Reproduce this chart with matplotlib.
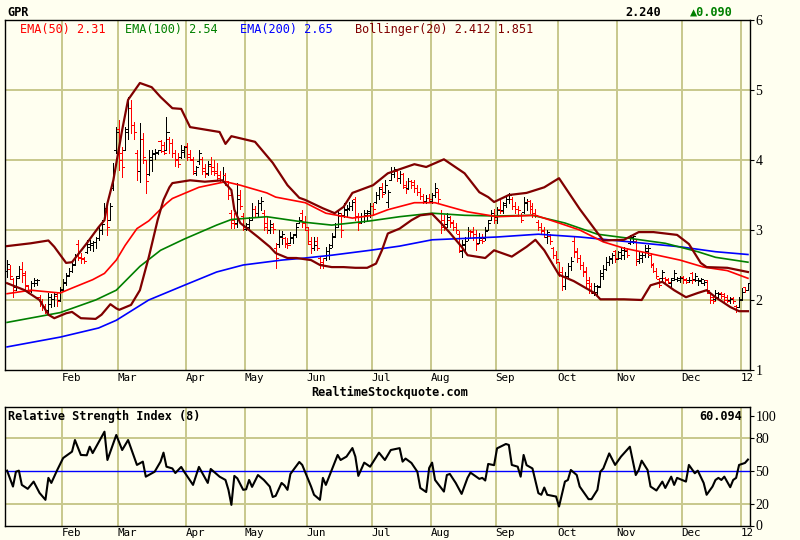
import matplotlib
matplotlib.use("Agg")
import matplotlib.pyplot as plt
from matplotlib.collections import LineCollection
import numpy as np

# daily bars, one per trading day
opens = [
    2.42, 2.45, 2.30, 2.18, 2.34, 2.45, 2.36, 2.20, 2.15, 2.25,
    2.24, 2.05, 1.98, 1.92, 1.86, 1.95, 2.02, 2.06, 2.00, 2.16,
    2.26, 2.36, 2.42, 2.52, 2.80, 2.62, 2.60, 2.68, 2.76, 2.78,
    2.83, 2.88, 3.00, 3.15, 3.30, 3.15, 3.60, 4.15, 4.45, 4.10,
    4.15, 4.45, 4.75, 4.50, 4.10, 3.85, 4.30, 4.00, 3.80, 4.00,
    4.08, 4.10, 4.27, 4.22, 4.15, 4.30, 4.25, 4.10, 4.02, 4.05,
    4.12, 4.20, 4.08, 4.00, 3.82, 3.98, 4.02, 3.88, 3.82, 3.92,
    3.90, 3.85, 3.78, 3.72, 3.78, 3.65, 3.25, 3.15, 3.10, 3.50,
    3.20, 3.02, 3.05, 3.15, 3.30, 3.25, 3.38, 3.25, 3.10, 3.00,
    3.05, 2.75, 2.80, 2.90, 2.88, 2.82, 2.82, 2.88, 2.95, 3.10,
    3.25, 3.12, 3.00, 2.80, 2.74, 2.85, 2.60, 2.55, 2.60, 2.65,
    2.78, 2.92, 3.08, 3.20, 3.22, 3.28, 3.30, 3.35, 3.45, 3.20,
    3.12, 3.20, 3.22, 3.25, 3.35, 3.40, 3.50, 3.62, 3.55, 3.40,
    3.72, 3.80, 3.85, 3.75, 3.80, 3.62, 3.60, 3.70, 3.68, 3.60,
    3.55, 3.48, 3.42, 3.46, 3.42, 3.50, 3.55, 3.25, 3.15, 3.08,
    3.15, 3.12, 3.05, 2.95, 2.70, 2.78, 2.88, 2.99, 2.98, 2.95,
    2.82, 2.86, 2.88, 3.00, 3.15, 3.22, 3.18, 3.30, 3.28, 3.38,
    3.45, 3.45, 3.35, 3.30, 3.22, 3.26, 3.38, 3.42, 3.35, 3.25,
    3.12, 3.05, 2.98, 2.90, 2.92, 2.75, 2.65, 2.55, 2.40, 2.20,
    2.35, 2.48, 2.85, 2.70, 2.60, 2.50, 2.42, 2.28, 2.20, 2.10,
    2.12, 2.20, 2.35, 2.45, 2.55, 2.58, 2.70, 2.58, 2.60, 2.65,
    2.72, 2.82, 2.84, 2.85, 2.56, 2.60, 2.64, 2.70, 2.65, 2.50,
    2.42, 2.30, 2.31, 2.32, 2.30, 2.25, 2.32, 2.30, 2.28, 2.33,
    2.30, 2.28, 2.38, 2.30, 2.28, 2.27, 2.24, 2.28, 2.10, 2.05,
    2.02, 2.05, 2.10, 2.08, 2.05, 2.00, 2.03, 1.92, 1.90, 2.02,
    2.19, 2.15]
highs = [
    2.57, 2.50, 2.31, 2.35, 2.48, 2.55, 2.42, 2.22, 2.27, 2.31,
    2.30, 2.07, 2.02, 1.95, 2.10, 2.08, 2.10, 2.10, 2.19, 2.30,
    2.39, 2.46, 2.54, 2.66, 2.86, 2.67, 2.62, 2.86, 2.86, 2.85,
    2.90, 3.04, 3.10, 3.39, 3.33, 3.39, 3.96, 4.47, 4.57, 4.19,
    4.47, 4.90, 4.86, 4.55, 4.14, 4.53, 4.39, 4.00, 4.14, 4.14,
    4.16, 4.15, 4.29, 4.26, 4.61, 4.33, 4.30, 4.14, 4.10, 4.21,
    4.20, 4.24, 4.15, 4.04, 3.92, 4.14, 4.04, 3.95, 3.98, 4.04,
    4.00, 3.96, 3.85, 3.90, 3.82, 3.70, 3.29, 3.25, 3.67, 3.57,
    3.24, 3.10, 3.19, 3.39, 3.35, 3.43, 3.47, 3.29, 3.19, 3.15,
    3.10, 2.81, 3.00, 2.98, 2.90, 2.88, 2.97, 2.95, 3.10, 3.19,
    3.29, 3.20, 3.04, 2.90, 2.90, 2.90, 2.61, 2.60, 2.76, 2.80,
    2.96, 3.10, 3.29, 3.24, 3.39, 3.36, 3.40, 3.43, 3.47, 3.24,
    3.25, 3.29, 3.28, 3.39, 3.39, 3.55, 3.61, 3.67, 3.71, 3.57,
    3.90, 3.90, 3.86, 3.84, 3.81, 3.70, 3.74, 3.72, 3.72, 3.65,
    3.60, 3.52, 3.50, 3.52, 3.53, 3.67, 3.58, 3.29, 3.22, 3.24,
    3.20, 3.14, 3.10, 2.98, 2.86, 2.90, 3.04, 3.00, 3.04, 3.00,
    2.96, 2.94, 3.04, 3.14, 3.29, 3.30, 3.33, 3.43, 3.40, 3.50,
    3.53, 3.47, 3.40, 3.35, 3.24, 3.47, 3.45, 3.43, 3.39, 3.30,
    3.14, 3.10, 3.05, 3.00, 2.95, 2.76, 2.70, 2.55, 2.47, 2.40,
    2.53, 2.61, 2.90, 2.75, 2.65, 2.55, 2.47, 2.33, 2.25, 2.24,
    2.22, 2.43, 2.50, 2.61, 2.63, 2.67, 2.72, 2.70, 2.76, 2.76,
    2.74, 2.93, 2.92, 2.86, 2.69, 2.68, 2.79, 2.78, 2.67, 2.53,
    2.46, 2.31, 2.43, 2.33, 2.31, 2.31, 2.43, 2.33, 2.34, 2.34,
    2.32, 2.33, 2.40, 2.38, 2.31, 2.31, 2.28, 2.29, 2.10, 2.06,
    2.14, 2.12, 2.12, 2.10, 2.07, 2.04, 2.04, 1.93, 2.04, 2.17,
    2.19, 2.24]
lows = [
    2.33, 2.30, 2.05, 2.15, 2.32, 2.26, 2.16, 2.10, 2.12, 2.20,
    2.21, 1.92, 1.86, 1.81, 1.82, 1.90, 1.92, 1.92, 1.98, 2.14,
    2.22, 2.34, 2.40, 2.50, 2.57, 2.53, 2.53, 2.67, 2.72, 2.70,
    2.75, 2.86, 2.95, 3.14, 2.93, 3.14, 3.57, 4.10, 3.86, 3.76,
    4.14, 4.30, 4.39, 4.30, 3.71, 3.69, 3.96, 3.53, 3.78, 3.85,
    4.02, 4.08, 4.12, 4.08, 4.14, 4.10, 4.04, 3.92, 3.90, 4.03,
    4.05, 4.00, 4.00, 3.80, 3.78, 3.95, 3.80, 3.76, 3.78, 3.80,
    3.78, 3.71, 3.70, 3.70, 3.65, 3.45, 3.03, 3.03, 3.04, 3.30,
    3.00, 3.00, 3.00, 3.14, 3.19, 3.20, 3.29, 3.00, 2.96, 2.96,
    2.96, 2.46, 2.76, 2.80, 2.76, 2.74, 2.81, 2.82, 2.90, 3.10,
    3.04, 3.00, 2.80, 2.67, 2.72, 2.71, 2.46, 2.46, 2.57, 2.58,
    2.76, 2.90, 3.04, 2.90, 3.19, 3.20, 3.28, 3.29, 3.14, 3.00,
    3.10, 3.12, 3.15, 3.19, 3.22, 3.38, 3.45, 3.47, 3.53, 3.33,
    3.71, 3.76, 3.70, 3.67, 3.60, 3.53, 3.58, 3.60, 3.55, 3.50,
    3.45, 3.39, 3.38, 3.40, 3.39, 3.47, 3.40, 2.96, 3.00, 3.04,
    3.05, 3.00, 2.96, 2.68, 2.61, 2.71, 2.86, 2.88, 2.86, 2.71,
    2.81, 2.82, 2.86, 3.00, 3.14, 3.10, 3.10, 3.24, 3.25, 3.33,
    3.38, 3.30, 3.25, 3.20, 3.11, 3.24, 3.28, 3.25, 3.19, 3.18,
    3.00, 2.95, 2.90, 2.81, 2.80, 2.60, 2.53, 2.35, 2.14, 2.16,
    2.33, 2.43, 2.61, 2.55, 2.45, 2.35, 2.19, 2.10, 2.10, 2.07,
    2.08, 2.19, 2.30, 2.43, 2.50, 2.53, 2.55, 2.58, 2.58, 2.58,
    2.61, 2.80, 2.81, 2.50, 2.53, 2.55, 2.61, 2.62, 2.47, 2.40,
    2.31, 2.19, 2.29, 2.24, 2.24, 2.19, 2.29, 2.27, 2.26, 2.25,
    2.24, 2.26, 2.24, 2.27, 2.21, 2.24, 2.22, 2.11, 1.96, 1.96,
    2.00, 2.02, 2.03, 1.96, 1.97, 1.96, 1.96, 1.83, 1.90, 2.00,
    2.11, 2.14]
closes = [
    2.52, 2.34, 2.15, 2.32, 2.45, 2.38, 2.22, 2.13, 2.25, 2.29,
    2.28, 1.98, 1.92, 1.85, 2.05, 2.02, 2.08, 1.98, 2.15, 2.25,
    2.35, 2.42, 2.50, 2.64, 2.60, 2.58, 2.56, 2.80, 2.82, 2.83,
    2.88, 3.00, 3.08, 3.32, 3.05, 3.35, 3.85, 4.40, 4.00, 3.90,
    4.40, 4.75, 4.50, 4.40, 3.85, 4.30, 4.05, 3.70, 4.05, 4.10,
    4.12, 4.14, 4.13, 4.10, 4.40, 4.25, 4.10, 4.00, 3.95, 4.15,
    4.18, 4.05, 4.02, 3.85, 3.90, 4.10, 3.85, 3.80, 3.95, 3.85,
    3.82, 3.75, 3.72, 3.78, 3.70, 3.50, 3.10, 3.08, 3.45, 3.35,
    3.05, 3.08, 3.15, 3.30, 3.25, 3.38, 3.42, 3.05, 3.00, 3.08,
    3.02, 2.60, 2.92, 2.95, 2.80, 2.78, 2.90, 2.93, 3.05, 3.15,
    3.10, 3.05, 2.85, 2.75, 2.78, 2.74, 2.52, 2.50, 2.70, 2.75,
    2.90, 3.05, 3.25, 3.00, 3.30, 3.32, 3.35, 3.40, 3.20, 3.10,
    3.20, 3.25, 3.27, 3.35, 3.30, 3.50, 3.58, 3.52, 3.65, 3.55,
    3.85, 3.87, 3.75, 3.80, 3.65, 3.58, 3.70, 3.65, 3.60, 3.55,
    3.48, 3.42, 3.46, 3.44, 3.50, 3.60, 3.45, 3.05, 3.05, 3.18,
    3.10, 3.04, 3.00, 2.72, 2.80, 2.85, 2.98, 2.97, 2.90, 2.80,
    2.88, 2.84, 2.98, 3.10, 3.25, 3.15, 3.28, 3.27, 3.36, 3.45,
    3.50, 3.35, 3.30, 3.28, 3.15, 3.40, 3.42, 3.30, 3.25, 3.22,
    3.05, 3.00, 2.95, 2.97, 2.85, 2.65, 2.58, 2.40, 2.20, 2.35,
    2.48, 2.56, 2.68, 2.60, 2.50, 2.40, 2.25, 2.15, 2.12, 2.20,
    2.18, 2.38, 2.45, 2.55, 2.60, 2.64, 2.60, 2.68, 2.72, 2.70,
    2.65, 2.90, 2.91, 2.58, 2.65, 2.64, 2.75, 2.74, 2.52, 2.42,
    2.35, 2.22, 2.40, 2.28, 2.26, 2.28, 2.38, 2.32, 2.31, 2.28,
    2.26, 2.29, 2.28, 2.35, 2.29, 2.30, 2.26, 2.15, 2.00, 1.99,
    2.10, 2.08, 2.06, 2.00, 1.99, 2.02, 1.98, 1.86, 2.00, 2.12,
    2.15, 2.24]

# indicator lines (day index, value)
ema50_idx = [0, 8, 18, 22, 29, 33, 37, 40, 44, 48, 54, 56, 65, 74, 79, 88, 91, 101, 108,
             117, 124, 129, 138, 145, 150, 156, 166, 179, 187, 194, 202, 209, 217,
             228, 236, 244, 251]
ema50_val = [2.09, 2.14, 2.10, 2.17, 2.29, 2.38, 2.57, 2.78, 3.02, 3.13, 3.38, 3.45, 3.61,
             3.69, 3.64, 3.53, 3.47, 3.39, 3.24, 3.17, 3.21, 3.29, 3.39, 3.39, 3.33,
             3.26, 3.19, 3.21, 3.10, 3.00, 2.83, 2.74, 2.67, 2.57, 2.47, 2.42, 2.31]
ema100_idx = [0, 18, 30, 37, 45, 52, 60, 71, 76, 88, 101, 110, 123, 133, 144, 155,
              166, 178, 189, 200, 211, 223, 234, 240, 251]
ema100_val = [1.68, 1.82, 2.00, 2.14, 2.48, 2.71, 2.87, 3.07, 3.15, 3.19, 3.11, 3.07,
              3.13, 3.19, 3.24, 3.21, 3.20, 3.21, 3.10, 2.94, 2.88, 2.81, 2.69, 2.61, 2.54]
ema200_idx = [0, 18, 31, 37, 48, 60, 71, 80, 93, 101, 110, 123, 133, 144, 166, 180,
              194, 211, 228, 240, 251]
ema200_val = [1.33, 1.47, 1.60, 1.71, 2.00, 2.21, 2.40, 2.50, 2.57, 2.60, 2.64, 2.71,
              2.77, 2.86, 2.90, 2.94, 2.90, 2.83, 2.76, 2.69, 2.65]
bb_up_idx = [0, 8, 14, 16, 20, 22, 27, 31, 33, 34, 36, 39, 41, 45, 49, 52, 56, 59, 62,
             72, 74, 76, 84, 90, 95, 99, 101, 107, 111, 114, 117, 124, 129, 138, 142,
             148, 155, 160, 163, 165, 170, 176, 182, 187, 194, 200, 202, 209, 214, 219,
             227, 231, 235, 237, 244, 251]
bb_up_val = [2.77, 2.81, 2.85, 2.76, 2.53, 2.54, 2.81, 3.04, 3.14, 3.38, 3.71, 4.43,
             4.86, 5.10, 5.04, 4.90, 4.74, 4.73, 4.47, 4.40, 4.23, 4.34, 4.26, 3.96,
             3.64, 3.46, 3.43, 3.31, 3.24, 3.33, 3.53, 3.64, 3.81, 3.94, 3.90, 4.01,
             3.81, 3.54, 3.47, 3.40, 3.50, 3.53, 3.61, 3.74, 3.30, 2.96, 2.85, 2.86,
             2.97, 2.97, 2.93, 2.80, 2.53, 2.47, 2.46, 2.40]
bb_lo_idx = [0, 6, 11, 14, 16, 20, 22, 25, 30, 32, 35, 37, 38, 42, 45, 48, 51, 53, 55,
             56, 62, 67, 70, 73, 76, 77, 79, 82, 85, 89, 91, 95, 98, 103, 106, 110, 114,
             118, 122, 125, 127, 129, 133, 137, 140, 144, 147, 150, 154, 156, 162, 165,
             171, 176, 179, 182, 187, 192, 199, 201, 209, 215, 218, 222, 226, 230, 234,
             237, 240, 245, 248, 251]
bb_lo_val = [2.24, 2.14, 2.00, 1.79, 1.74, 1.81, 1.83, 1.74, 1.73, 1.79, 1.94, 1.88,
             1.86, 1.93, 2.14, 2.61, 3.14, 3.43, 3.61, 3.67, 3.71, 3.69, 3.70, 3.71,
             3.57, 3.29, 3.10, 3.00, 2.90, 2.76, 2.67, 2.60, 2.60, 2.57, 2.50, 2.47,
             2.47, 2.46, 2.46, 2.52, 2.71, 2.95, 3.02, 3.14, 3.21, 3.23, 3.10, 2.96,
             2.76, 2.64, 2.60, 2.71, 2.62, 2.76, 2.86, 2.71, 2.36, 2.27, 2.10, 2.01,
             2.01, 2.00, 2.21, 2.26, 2.14, 2.04, 2.10, 2.14, 2.04, 1.90, 1.84, 1.84]

rsi_idx = [0, 2, 3, 4, 5, 7, 9, 11, 13, 14, 15, 17, 19, 22, 23, 25, 27, 28, 29, 33,
           34, 37, 39, 41, 44, 46, 47, 50, 52, 53, 54, 56, 57, 59, 60, 63, 65, 68, 69, 72,
           74, 75, 76, 77, 78, 80, 81, 82, 83, 85, 87, 89, 90, 91, 93, 94, 95, 96, 99, 100,
           103, 104, 106, 107, 108, 110, 112, 113, 115, 117, 118, 119, 121, 123, 126, 128,
           130, 133, 134, 135, 137, 139, 140, 142, 143, 144, 145, 148, 149, 150, 152, 154,
           156, 157, 160, 161, 162, 163, 165, 166, 169, 170, 171, 173, 174, 175, 176, 178,
           180, 181, 182, 183, 186, 187, 189, 190, 191, 193, 194, 197, 198, 200, 201, 202,
           204, 206, 208, 211, 213, 214, 215, 217, 218, 220, 222, 223, 225, 226, 227, 230,
           231, 233, 234, 236, 237, 239, 240, 241, 242, 243, 245, 246, 247, 248, 250, 251]
rsi_val = [50.0, 35.5, 49, 50, 37, 33.4, 40, 29.7, 23.4, 43.4,
           38.8, 50.6, 61.5, 67.3, 77.9, 64.3, 64, 71.8, 66, 85.5,
           59.7, 82.5, 68.8, 77.9, 55.2, 58.2, 44.5, 49, 58.2, 66.4,
           53.6, 52, 47.8, 53.4, 49, 37, 53.4, 38.8, 51.5, 44.5,
           41.5, 32.5, 18.8, 45.2, 43, 32.5, 33, 41.5, 35.2, 46,
           41.5, 35.5, 26, 27, 38.8, 36.5, 32.5, 47, 57.9, 55.2,
           35.5, 28, 23.4, 43.4, 37, 50.6, 64.3, 59.7, 62.8, 70.6,
           62.8, 45.2, 57.3, 53.6, 66.4, 59.7, 68.8, 70.5, 58.2, 61,
           57, 49, 34.2, 30.5, 52.4, 57.3, 41.5, 30.9, 46, 47,
           38.8, 28.8, 43.4, 48.2, 42.5, 43.4, 41, 56.1, 55, 70.3,
           74.3, 73.4, 55.2, 53.6, 44.5, 64.3, 55, 52, 29.5, 28,
           34.6, 28, 26.4, 17.3, 40, 41.5, 50.6, 46, 35.5, 24,
           24, 32.5, 49, 52, 65.7, 55.2, 62.8, 71.8, 46, 50.6,
           59.1, 50.6, 35.5, 31.9, 40, 34.2, 44.5, 37, 43.4, 40,
           55.2, 47.6, 50, 38.8, 28, 35.5, 41.5, 43.4, 41.5, 44.5,
           34.9, 41.5, 43.4, 55.2, 57, 60.1]

month_starts = [19, 38, 61, 81, 102, 124, 144, 166, 187, 207, 229, 249]
month_labels = ['Feb', 'Mar', 'Apr', 'May', 'Jun', 'Jul', 'Aug', 'Sep', 'Oct',
                'Nov', 'Dec', '12']

BG = '#fffff0'
GRID = '#c8c88c'
MONO = 'DejaVu Sans Mono'

fig = plt.figure(figsize=(8, 5.4), dpi=100, facecolor=BG)
ax = fig.add_axes([5 / 800, 1 - 370 / 540, 745 / 800, 350 / 540])
ax2 = fig.add_axes([5 / 800, 1 - 525.5 / 540, 745 / 800, 118.5 / 540])


def style(a, yticks):
    a.set_facecolor(BG)
    for s in a.spines.values():
        s.set_color('black')
        s.set_linewidth(1.0)
    a.set_xlim(-0.7, 251.7)
    grid_x = [m - 0.5 for m in month_starts]
    for gx in grid_x:
        a.axvline(gx, color=GRID, lw=1.4, zorder=0)
    a.set_xticks(grid_x)
    a.set_xticklabels(month_labels, ha='left', fontfamily=MONO, fontsize=7.8)
    a.tick_params(axis='x', length=0, pad=2)
    a.yaxis.tick_right()
    a.set_yticks(yticks)
    a.set_yticklabels([str(t) for t in yticks], fontfamily='Liberation Serif',
                      fontsize=10)
    a.tick_params(axis='y', direction='out', length=3, width=0.8, pad=1)


# price panel
style(ax, [1, 2, 3, 4, 5, 6])
ax.set_ylim(1, 6)
for gy in [2, 3, 4, 5]:
    ax.axhline(gy, color=GRID, lw=1.4, zorder=0)

o = np.array(opens)
h = np.array(highs)
l = np.array(lows)
c = np.array(closes)
segs = []
cols = []
for i in range(len(c)):
    col = 'red' if c[i] < o[i] else 'black'
    segs.append([(i, l[i]), (i, h[i])])
    segs.append([(i - 0.7, o[i]), (i, o[i])])
    segs.append([(i, c[i]), (i + 0.7, c[i])])
    cols += [col, col, col]
ax.add_collection(LineCollection(segs, colors=cols, linewidths=0.72,
                                 antialiaseds=False, zorder=2))

ax.plot(ema200_idx, ema200_val, color='#0000ff', lw=1.2, zorder=3)
ax.plot(ema100_idx, ema100_val, color='#008000', lw=1.2, zorder=3)
ax.plot(ema50_idx, ema50_val, color='#ff0000', lw=1.2, zorder=3)
ax.plot(bb_up_idx, bb_up_val, color='#800000', lw=1.6, zorder=4)
ax.plot(bb_lo_idx, bb_lo_val, color='#800000', lw=1.6, zorder=4)

# RSI panel
style(ax2, [0, 20, 50, 80, 100])
ax2.set_ylim(0, 108)
for gy in [20, 80]:
    ax2.axhline(gy, color=GRID, lw=1.4, zorder=0)
ax2.axhline(50, color='#0000ff', lw=1.0, zorder=1)
ax2.plot(rsi_idx, rsi_val, color='black', lw=1.5, zorder=3)


def ftext(x, y, s, **kw):
    fig.text(x / 800, 1 - y / 540, s, va='center', fontfamily=MONO, **kw)


ftext(7, 12, 'GPR', fontsize=8.6, fontweight='bold')
ftext(625, 12, '2.240', fontsize=8.6, fontweight='bold')
ftext(690, 12, '\u25b20.090', fontsize=8.6, fontweight='bold', color='#008000')
ftext(20, 30, 'EMA(50) 2.31', fontsize=8.6, color='#ff0000')
ftext(125, 30, 'EMA(100) 2.54', fontsize=8.6, color='#008000')
ftext(240, 30, 'EMA(200) 2.65', fontsize=8.6, color='#0000ff')
ftext(355, 30, 'Bollinger(20) 2.412 1.851', fontsize=8.6, color='#800000')
ftext(390, 392, 'RealtimeStockquote.com', fontsize=8.6, fontweight='bold', ha='center')
ftext(8, 416, 'Relative Strength Index (8)', fontsize=8.6, fontweight='bold')
ftext(742, 416, '60.094', fontsize=8.6, fontweight='bold', ha='right')

fig.savefig('out.png', dpi=100, facecolor=BG)
